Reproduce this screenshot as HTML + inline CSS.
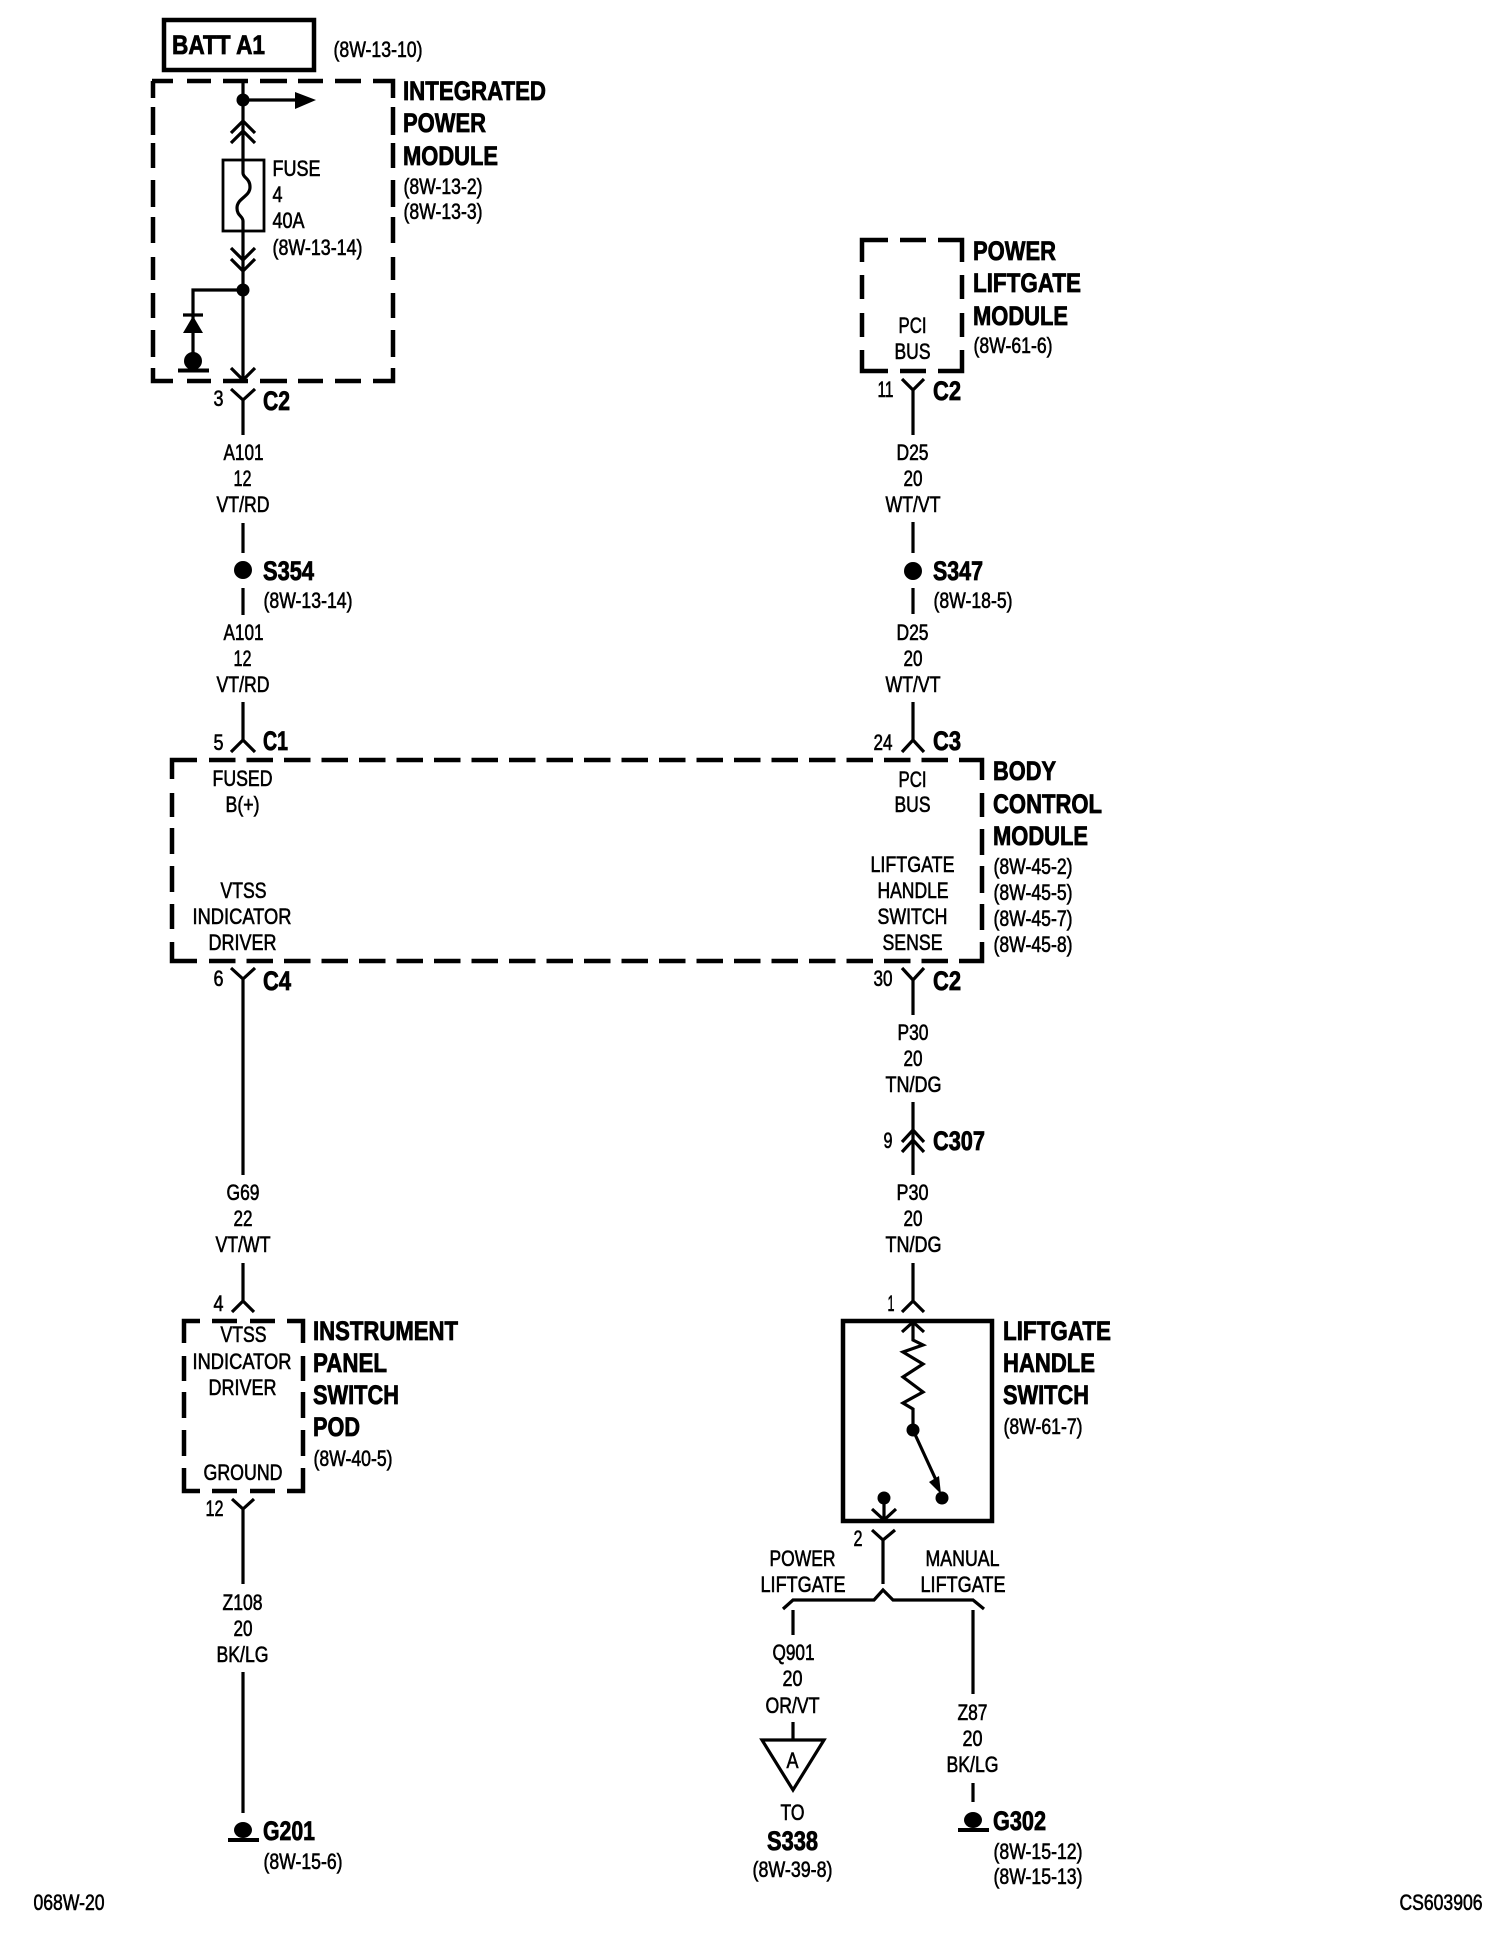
<!DOCTYPE html>
<html><head><meta charset="utf-8"><style>
html,body{margin:0;padding:0;background:#fff}
svg{display:block}
text{font-family:"Liberation Sans",sans-serif;fill:#000}
.s{font-size:22px;stroke:#000;stroke-width:.6px}
.b{font-size:27px;font-weight:bold;stroke:#000;stroke-width:.8px}
.d{fill:none;stroke:#000;stroke-width:4.5}
.w{fill:none;stroke:#000;stroke-width:3.2}
</style></head><body>
<svg width="1504" height="1940" viewBox="0 0 1504 1940" xmlns="http://www.w3.org/2000/svg">
<rect width="1504" height="1940" fill="#fff"/>

<!-- BATT -->
<rect x="164" y="20" width="150" height="50" fill="none" stroke="#000" stroke-width="4.5"/>

<!-- dashed boxes -->
<path class="d" d="M152 81H173M187 81H211M223 81H248M260 81H287M298 81H323M335 81H361M373 81H393V98M393 107V135M393 143V168M393 180V207M393 217V243M393 257V280M393 293V318M393 330V357M393 368V381H373M361 381H335M323 381H298M287 381H260M248 381H223M211 381H187M173 381H153V368M153 357V330M153 318V293M153 280V257M153 243V217M153 207V180M153 168V143M153 135V107M153 98V81"/>
<path class="d" d="M172 779V760H197M172 793V817M172 828V854M172 866V892M172 904V929M172 942V961H197M959 760H982V780M982 793V817M982 829V855M982 866V893M982 904V930M982 942V961H959"/>
<path class="d" stroke-dasharray="26.5 11" d="M209 760H950M209 961H950"/>
<path class="d" d="M184 1343V1321H200M212 1321H237M250 1321H275M287 1321H303V1343M184 1356V1381M184 1392V1418M184 1430V1456M184 1468V1491H200M212 1491H237M250 1491H275M287 1491H303V1468M303 1456V1430M303 1418V1392M303 1381V1356"/>
<path class="d" d="M862 262V240H888M900 240H926M938 240H962V262M862 275V299M862 313V337M862 350V371H888M900 371H926M938 371H962V350M962 337V313M962 299V275"/>
<rect x="843" y="1321" width="149" height="200" fill="none" stroke="#000" stroke-width="4.5"/>

<!-- IPM internals -->
<g class="w">
<path class="w" d="M243 81V173C243 178 250 178 250 187C250 197 237 198 237 208C237 216 243 216 243 221V380"/>
<path class="w" d="M243 100H296"/>
<path class="w" d="M231 133L243 121L255 133M231 143L243 131L255 143"/>
<path class="w" d="M231 248L243 260L255 248M231 259L243 271L255 259"/>
<path class="w" d="M243 290H193V361"/>
<path class="w" d="M183 315H203"/>
<path class="w" d="M231 368L243 380L255 368"/>
<rect x="223" y="160" width="41" height="71" fill="none" stroke="#000" stroke-width="2.8"/>
<!-- left column -->
<path class="w" d="M231 389L243 400L255 389M243 400V435"/>
<path class="w" d="M243 523V553M243 588V615M243 702V740M231 752L243 740L255 752"/>
<path class="w" d="M231 968L243 979L255 968M243 979V1175M243 1263V1301M232 1312L243 1301L254 1312"/>
<path class="w" d="M232 1499L243 1509L254 1499M243 1509V1584M243 1672V1813"/>
<!-- right column -->
<path class="w" d="M902 379L913 390L924 379M913 390V435M913 522V553M913 588V614M913 702V740M902 752L913 740L924 752"/>
<path class="w" d="M902 968L913 980L924 968M913 980V1015M913 1102V1175M902 1142L913 1130L924 1142M902 1152L913 1140L924 1152"/>
<path class="w" d="M913 1263V1301M902 1312L913 1301L924 1312M902 1332L913 1322L924 1332M913 1322V1340L923 1345L903 1352L923 1364L903 1377L923 1392L903 1403L913 1409V1430"/>
<path class="w" d="M913 1430L936 1480"/>
<path class="w" d="M884 1498V1520M872 1509L884 1520L896 1509M872 1530L883 1540L895 1530M883 1540V1584"/>
<path class="w" d="M783 1609L793 1600H874L883 1590L893 1600H973L984 1609"/>
<path class="w" d="M793 1610V1635M793 1722V1740M973 1610V1694M973 1783V1802"/>
<path class="w" d="M762 1740H824L793 1790Z"/>
</g>

<!-- filled -->
<circle cx="243" cy="100" r="6.5"/>
<path d="M295 92L316 100L295 109Z"/>
<circle cx="243" cy="290" r="6.5"/>
<path d="M193 316L203 333H183Z"/>
<circle cx="193" cy="361" r="9"/>
<rect x="178" y="368.5" width="31" height="4"/>
<circle cx="243" cy="570" r="9"/>
<circle cx="913" cy="571" r="9"/>
<circle cx="913" cy="1430" r="6.5"/>
<path d="M941 1494L929 1482L939 1476Z"/>
<circle cx="942" cy="1498" r="6.5"/>
<circle cx="884" cy="1498" r="6.5"/>
<ellipse cx="243" cy="1830" rx="9" ry="8"/>
<rect x="228" y="1838" width="31" height="4"/>
<ellipse cx="973" cy="1820" rx="9" ry="8"/>
<rect x="958" y="1828" width="31" height="4"/>

<!-- bold labels -->
<g class="b" transform="translate(-1 0)">
<text x="173" y="54" textLength="93" lengthAdjust="spacingAndGlyphs">BATT A1</text>
<text x="404" y="100" textLength="143" lengthAdjust="spacingAndGlyphs">INTEGRATED</text>
<text x="404" y="132" textLength="83" lengthAdjust="spacingAndGlyphs">POWER</text>
<text x="404" y="165" textLength="95" lengthAdjust="spacingAndGlyphs">MODULE</text>
<text x="264" y="410" textLength="27" lengthAdjust="spacingAndGlyphs">C2</text>
<text x="264" y="580" textLength="51" lengthAdjust="spacingAndGlyphs">S354</text>
<text x="264" y="750" textLength="25" lengthAdjust="spacingAndGlyphs">C1</text>
<text x="264" y="990" textLength="28" lengthAdjust="spacingAndGlyphs">C4</text>
<text x="314" y="1340" textLength="145" lengthAdjust="spacingAndGlyphs">INSTRUMENT</text>
<text x="314" y="1372" textLength="74" lengthAdjust="spacingAndGlyphs">PANEL</text>
<text x="314" y="1404" textLength="86" lengthAdjust="spacingAndGlyphs">SWITCH</text>
<text x="314" y="1436" textLength="47" lengthAdjust="spacingAndGlyphs">POD</text>
<text x="264" y="1840" textLength="52" lengthAdjust="spacingAndGlyphs">G201</text>
<text x="974" y="260" textLength="83" lengthAdjust="spacingAndGlyphs">POWER</text>
<text x="974" y="292" textLength="108" lengthAdjust="spacingAndGlyphs">LIFTGATE</text>
<text x="974" y="325" textLength="95" lengthAdjust="spacingAndGlyphs">MODULE</text>
<text x="934" y="400" textLength="28" lengthAdjust="spacingAndGlyphs">C2</text>
<text x="934" y="580" textLength="50" lengthAdjust="spacingAndGlyphs">S347</text>
<text x="934" y="750" textLength="28" lengthAdjust="spacingAndGlyphs">C3</text>
<text x="994" y="780" textLength="63" lengthAdjust="spacingAndGlyphs">BODY</text>
<text x="994" y="813" textLength="109" lengthAdjust="spacingAndGlyphs">CONTROL</text>
<text x="994" y="845" textLength="95" lengthAdjust="spacingAndGlyphs">MODULE</text>
<text x="934" y="990" textLength="28" lengthAdjust="spacingAndGlyphs">C2</text>
<text x="934" y="1150" textLength="52" lengthAdjust="spacingAndGlyphs">C307</text>
<text x="1004" y="1340" textLength="108" lengthAdjust="spacingAndGlyphs">LIFTGATE</text>
<text x="1004" y="1372" textLength="92" lengthAdjust="spacingAndGlyphs">HANDLE</text>
<text x="1004" y="1404" textLength="86" lengthAdjust="spacingAndGlyphs">SWITCH</text>
<text x="768" y="1850" textLength="51" lengthAdjust="spacingAndGlyphs">S338</text>
<text x="994" y="1830" textLength="53" lengthAdjust="spacingAndGlyphs">G302</text>
</g>

<!-- regular labels -->
<g class="s" transform="translate(-.5 0)">
<text x="334" y="57" textLength="89" lengthAdjust="spacingAndGlyphs">(8W-13-10)</text>
<text x="404" y="194" textLength="79" lengthAdjust="spacingAndGlyphs">(8W-13-2)</text>
<text x="404" y="219" textLength="79" lengthAdjust="spacingAndGlyphs">(8W-13-3)</text>
<text x="273" y="176" textLength="48" lengthAdjust="spacingAndGlyphs">FUSE</text>
<text x="273" y="202" textLength="10" lengthAdjust="spacingAndGlyphs">4</text>
<text x="273" y="228" textLength="32" lengthAdjust="spacingAndGlyphs">40A</text>
<text x="273" y="255" textLength="90" lengthAdjust="spacingAndGlyphs">(8W-13-14)</text>
<text x="214" y="406" textLength="10" lengthAdjust="spacingAndGlyphs">3</text>
<text x="224" y="460" textLength="40" lengthAdjust="spacingAndGlyphs">A101</text>
<text x="234" y="486" textLength="18" lengthAdjust="spacingAndGlyphs">12</text>
<text x="217" y="512" textLength="53" lengthAdjust="spacingAndGlyphs">VT/RD</text>
<text x="264" y="608" textLength="89" lengthAdjust="spacingAndGlyphs">(8W-13-14)</text>
<text x="224" y="640" textLength="40" lengthAdjust="spacingAndGlyphs">A101</text>
<text x="234" y="666" textLength="18" lengthAdjust="spacingAndGlyphs">12</text>
<text x="217" y="692" textLength="53" lengthAdjust="spacingAndGlyphs">VT/RD</text>
<text x="214" y="750" textLength="10" lengthAdjust="spacingAndGlyphs">5</text>
<text x="213" y="786" textLength="60" lengthAdjust="spacingAndGlyphs">FUSED</text>
<text x="226" y="812" textLength="34" lengthAdjust="spacingAndGlyphs">B(+)</text>
<text x="221" y="898" textLength="46" lengthAdjust="spacingAndGlyphs">VTSS</text>
<text x="193" y="924" textLength="99" lengthAdjust="spacingAndGlyphs">INDICATOR</text>
<text x="209" y="950" textLength="68" lengthAdjust="spacingAndGlyphs">DRIVER</text>
<text x="214" y="986" textLength="10" lengthAdjust="spacingAndGlyphs">6</text>
<text x="227" y="1200" textLength="33" lengthAdjust="spacingAndGlyphs">G69</text>
<text x="234" y="1226" textLength="19" lengthAdjust="spacingAndGlyphs">22</text>
<text x="216" y="1252" textLength="55" lengthAdjust="spacingAndGlyphs">VT/WT</text>
<text x="214" y="1311" textLength="10" lengthAdjust="spacingAndGlyphs">4</text>
<text x="221" y="1342" textLength="46" lengthAdjust="spacingAndGlyphs">VTSS</text>
<text x="193" y="1369" textLength="99" lengthAdjust="spacingAndGlyphs">INDICATOR</text>
<text x="209" y="1395" textLength="68" lengthAdjust="spacingAndGlyphs">DRIVER</text>
<text x="204" y="1480" textLength="79" lengthAdjust="spacingAndGlyphs">GROUND</text>
<text x="314" y="1466" textLength="79" lengthAdjust="spacingAndGlyphs">(8W-40-5)</text>
<text x="206" y="1516" textLength="18" lengthAdjust="spacingAndGlyphs">12</text>
<text x="223" y="1610" textLength="40" lengthAdjust="spacingAndGlyphs">Z108</text>
<text x="234" y="1636" textLength="19" lengthAdjust="spacingAndGlyphs">20</text>
<text x="217" y="1662" textLength="52" lengthAdjust="spacingAndGlyphs">BK/LG</text>
<text x="264" y="1869" textLength="79" lengthAdjust="spacingAndGlyphs">(8W-15-6)</text>
<text x="34" y="1910" textLength="71" lengthAdjust="spacingAndGlyphs">068W-20</text>

<text x="899" y="333" textLength="28" lengthAdjust="spacingAndGlyphs">PCI</text>
<text x="895" y="359" textLength="36" lengthAdjust="spacingAndGlyphs">BUS</text>
<text x="974" y="353" textLength="79" lengthAdjust="spacingAndGlyphs">(8W-61-6)</text>
<text x="878" y="397" textLength="16" lengthAdjust="spacingAndGlyphs">11</text>
<text x="897" y="460" textLength="32" lengthAdjust="spacingAndGlyphs">D25</text>
<text x="904" y="486" textLength="19" lengthAdjust="spacingAndGlyphs">20</text>
<text x="886" y="512" textLength="55" lengthAdjust="spacingAndGlyphs">WT/VT</text>
<text x="934" y="608" textLength="79" lengthAdjust="spacingAndGlyphs">(8W-18-5)</text>
<text x="897" y="640" textLength="32" lengthAdjust="spacingAndGlyphs">D25</text>
<text x="904" y="666" textLength="19" lengthAdjust="spacingAndGlyphs">20</text>
<text x="886" y="692" textLength="55" lengthAdjust="spacingAndGlyphs">WT/VT</text>
<text x="874" y="750" textLength="19" lengthAdjust="spacingAndGlyphs">24</text>
<text x="899" y="787" textLength="28" lengthAdjust="spacingAndGlyphs">PCI</text>
<text x="895" y="812" textLength="36" lengthAdjust="spacingAndGlyphs">BUS</text>
<text x="871" y="872" textLength="84" lengthAdjust="spacingAndGlyphs">LIFTGATE</text>
<text x="878" y="898" textLength="71" lengthAdjust="spacingAndGlyphs">HANDLE</text>
<text x="878" y="924" textLength="70" lengthAdjust="spacingAndGlyphs">SWITCH</text>
<text x="883" y="950" textLength="60" lengthAdjust="spacingAndGlyphs">SENSE</text>
<text x="994" y="874" textLength="79" lengthAdjust="spacingAndGlyphs">(8W-45-2)</text>
<text x="994" y="900" textLength="79" lengthAdjust="spacingAndGlyphs">(8W-45-5)</text>
<text x="994" y="926" textLength="79" lengthAdjust="spacingAndGlyphs">(8W-45-7)</text>
<text x="994" y="952" textLength="79" lengthAdjust="spacingAndGlyphs">(8W-45-8)</text>
<text x="874" y="986" textLength="19" lengthAdjust="spacingAndGlyphs">30</text>
<text x="898" y="1040" textLength="31" lengthAdjust="spacingAndGlyphs">P30</text>
<text x="904" y="1066" textLength="19" lengthAdjust="spacingAndGlyphs">20</text>
<text x="886" y="1092" textLength="56" lengthAdjust="spacingAndGlyphs">TN/DG</text>
<text x="884" y="1148" textLength="9" lengthAdjust="spacingAndGlyphs">9</text>
<text x="897" y="1200" textLength="32" lengthAdjust="spacingAndGlyphs">P30</text>
<text x="904" y="1226" textLength="19" lengthAdjust="spacingAndGlyphs">20</text>
<text x="886" y="1252" textLength="56" lengthAdjust="spacingAndGlyphs">TN/DG</text>
<text x="888" y="1311" textLength="7" lengthAdjust="spacingAndGlyphs">1</text>
<text x="1004" y="1434" textLength="79" lengthAdjust="spacingAndGlyphs">(8W-61-7)</text>
<text x="854" y="1546" textLength="9" lengthAdjust="spacingAndGlyphs">2</text>
<text x="770" y="1566" textLength="66" lengthAdjust="spacingAndGlyphs">POWER</text>
<text x="761" y="1592" textLength="85" lengthAdjust="spacingAndGlyphs">LIFTGATE</text>
<text x="926" y="1566" textLength="74" lengthAdjust="spacingAndGlyphs">MANUAL</text>
<text x="921" y="1592" textLength="85" lengthAdjust="spacingAndGlyphs">LIFTGATE</text>
<text x="773" y="1660" textLength="42" lengthAdjust="spacingAndGlyphs">Q901</text>
<text x="783" y="1686" textLength="20" lengthAdjust="spacingAndGlyphs">20</text>
<text x="766" y="1713" textLength="54" lengthAdjust="spacingAndGlyphs">OR/VT</text>
<text x="787" y="1768" textLength="12" lengthAdjust="spacingAndGlyphs">A</text>
<text x="781" y="1820" textLength="24" lengthAdjust="spacingAndGlyphs">TO</text>
<text x="753" y="1877" textLength="80" lengthAdjust="spacingAndGlyphs">(8W-39-8)</text>
<text x="958" y="1720" textLength="30" lengthAdjust="spacingAndGlyphs">Z87</text>
<text x="963" y="1746" textLength="20" lengthAdjust="spacingAndGlyphs">20</text>
<text x="947" y="1772" textLength="52" lengthAdjust="spacingAndGlyphs">BK/LG</text>
<text x="994" y="1859" textLength="89" lengthAdjust="spacingAndGlyphs">(8W-15-12)</text>
<text x="994" y="1884" textLength="89" lengthAdjust="spacingAndGlyphs">(8W-15-13)</text>
<text x="1400" y="1910" textLength="83" lengthAdjust="spacingAndGlyphs">CS603906</text>
</g>
</svg>
</body></html>
